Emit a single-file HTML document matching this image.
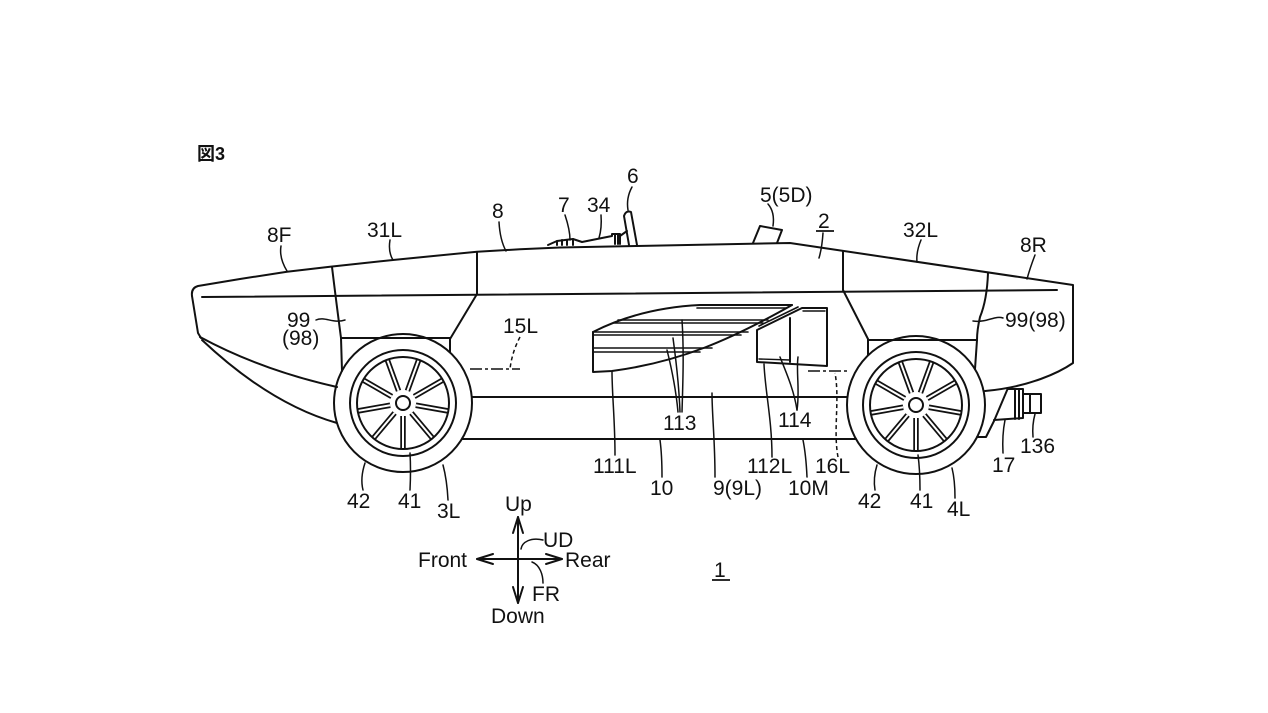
<!DOCTYPE html>
<html><head><meta charset="utf-8"><style>
html,body{margin:0;padding:0;background:#fff;}
svg{display:block;}
text{font-family:"Liberation Sans","Noto Sans CJK JP",sans-serif;font-size:21px;fill:#111;}
</style></head><body>
<svg width="1268" height="713" viewBox="0 0 1268 713" xmlns="http://www.w3.org/2000/svg">
<rect width="1268" height="713" fill="#fff"/>
<text x="197" y="160" style="font-size:18px;font-weight:bold">図3</text>

<g fill="none" stroke="#111" stroke-width="2" stroke-linejoin="round" stroke-linecap="round">
  <!-- body top outline -->
  <path d="M192,296 Q191,288 198,286 L240,279 L287,271.7 L330,266.7 L393,260 L477,251.7 L520,249.3 L560,247.5 L637,246 L790,243 L1073,285 L1073,363 C1060,372 1030,387 985,391"/>
  <!-- front edge and hull curves -->
  <path d="M192,296 L198,333 L201,338"/>
  <path d="M200,337 Q261,370 337,387"/>
  <path d="M202,340 Q270,404 337,423"/>
  <!-- inner horizontal line -->
  <path d="M202,297 L1057,290"/>
  <!-- front section lines -->
  <path d="M332,267 Q336,300 341,338 L342,371"/>
  <path d="M341,338 L450,338"/>
  <path d="M477,252 L477,294 L450,339 L450,352"/>
  <!-- rear section lines -->
  <path d="M843,251 L843,290 L868,339 L868,355"/>
  <path d="M868,340 L977,340"/>
  <path d="M988,273 Q987,300 980,317 Q977,330 977,340 L975,369"/>
  <!-- lower body lines -->
  <path d="M472,397 L847,397"/>
  <path d="M462,439 L856,439"/>
  <!-- rear piece 17 -->
  <path d="M1008,388 L994,421 L986,437 L977,437"/>
  <!-- connector 136 -->
  <path d="M1008,389 L1023,389 L1023,418 L994,420"/>
  <path d="M1015,389 L1015,419 M1019,389 L1019,419"/>
  <path d="M1023,394 L1041,394 L1041,413 L1023,413 M1030,394 L1030,413"/>

  <!-- battery 9 -->
  <path d="M593,332 L593,372 L612,371 C680,362 730,340 792,305"/>
  <path d="M593,332 Q640,308 700,305 L792,305"/>
  <path d="M697,308 L786,308" stroke-width="1.6"/>
  <path d="M618,320 L768,320 M614,323 L763,323" stroke-width="1.6"/>
  <path d="M593,332 L748,332 M593,335 L741,335" stroke-width="1.6"/>
  <path d="M593,348 L712,348 M593,352 L700,352" stroke-width="1.6"/>
  <!-- box 112L -->
  <path d="M757,330 L802,308 L827,308 L827,366 L757,362 Z"/>
  <path d="M759,326 L798,307" stroke-width="1.6"/>
  <path d="M803,311 L825,311" stroke-width="1.4"/>
  <path d="M759,359 L790,360" stroke-width="1.4"/>
  <path d="M790,318 L790,362"/>

  <!-- steering column -->
  <path d="M548,245 L557,241 L573,239 L582,242 L612,236 L612,234 L620,234 L620,244"/>
  <path d="M557,241 L557,245 M562,240 L562,245 M567,240 L567,245 M573,239 L573,245 M615,234 L615,244 M618,234 L618,244"/>
  <path d="M620,236 L627,231"/>
  <!-- rod 6 -->
  <path d="M629,245 L624,216 Q626,210 631,212 L637,245"/>
  <!-- camera 5 -->
  <path d="M753,243 L760,226 L782,230 L777,243"/>

  <!-- front wheel -->
  <circle cx="403" cy="403" r="69"/>
  <circle cx="403" cy="403" r="53"/>
  <circle cx="403" cy="403" r="46"/>
  <circle cx="403" cy="403" r="7"/>
  <!-- rear wheel -->
  <circle cx="916" cy="405" r="69"/>
  <circle cx="916" cy="405" r="53"/>
  <circle cx="916" cy="405" r="46"/>
  <circle cx="916" cy="405" r="7"/>
</g>

<!-- spokes front -->
<g transform="translate(403,403)" stroke-linecap="butt">
  <g stroke="#111" stroke-width="5.5">
    <line x1="13" y1="0" x2="46" y2="0" transform="rotate(10)"/>
    <line x1="13" y1="0" x2="46" y2="0" transform="rotate(50)"/>
    <line x1="13" y1="0" x2="46" y2="0" transform="rotate(90)"/>
    <line x1="13" y1="0" x2="46" y2="0" transform="rotate(130)"/>
    <line x1="13" y1="0" x2="46" y2="0" transform="rotate(170)"/>
    <line x1="13" y1="0" x2="46" y2="0" transform="rotate(210)"/>
    <line x1="13" y1="0" x2="46" y2="0" transform="rotate(250)"/>
    <line x1="13" y1="0" x2="46" y2="0" transform="rotate(290)"/>
    <line x1="13" y1="0" x2="46" y2="0" transform="rotate(330)"/>
  </g>
  <g stroke="#fff" stroke-width="2">
    <line x1="13" y1="0" x2="45" y2="0" transform="rotate(10)"/>
    <line x1="13" y1="0" x2="45" y2="0" transform="rotate(50)"/>
    <line x1="13" y1="0" x2="45" y2="0" transform="rotate(90)"/>
    <line x1="13" y1="0" x2="45" y2="0" transform="rotate(130)"/>
    <line x1="13" y1="0" x2="45" y2="0" transform="rotate(170)"/>
    <line x1="13" y1="0" x2="45" y2="0" transform="rotate(210)"/>
    <line x1="13" y1="0" x2="45" y2="0" transform="rotate(250)"/>
    <line x1="13" y1="0" x2="45" y2="0" transform="rotate(290)"/>
    <line x1="13" y1="0" x2="45" y2="0" transform="rotate(330)"/>
  </g>
</g>
<!-- spokes rear -->
<g transform="translate(916,405)" stroke-linecap="butt">
  <g stroke="#111" stroke-width="5.5">
    <line x1="13" y1="0" x2="46" y2="0" transform="rotate(10)"/>
    <line x1="13" y1="0" x2="46" y2="0" transform="rotate(50)"/>
    <line x1="13" y1="0" x2="46" y2="0" transform="rotate(90)"/>
    <line x1="13" y1="0" x2="46" y2="0" transform="rotate(130)"/>
    <line x1="13" y1="0" x2="46" y2="0" transform="rotate(170)"/>
    <line x1="13" y1="0" x2="46" y2="0" transform="rotate(210)"/>
    <line x1="13" y1="0" x2="46" y2="0" transform="rotate(250)"/>
    <line x1="13" y1="0" x2="46" y2="0" transform="rotate(290)"/>
    <line x1="13" y1="0" x2="46" y2="0" transform="rotate(330)"/>
  </g>
  <g stroke="#fff" stroke-width="2">
    <line x1="13" y1="0" x2="45" y2="0" transform="rotate(10)"/>
    <line x1="13" y1="0" x2="45" y2="0" transform="rotate(50)"/>
    <line x1="13" y1="0" x2="45" y2="0" transform="rotate(90)"/>
    <line x1="13" y1="0" x2="45" y2="0" transform="rotate(130)"/>
    <line x1="13" y1="0" x2="45" y2="0" transform="rotate(170)"/>
    <line x1="13" y1="0" x2="45" y2="0" transform="rotate(210)"/>
    <line x1="13" y1="0" x2="45" y2="0" transform="rotate(250)"/>
    <line x1="13" y1="0" x2="45" y2="0" transform="rotate(290)"/>
    <line x1="13" y1="0" x2="45" y2="0" transform="rotate(330)"/>
  </g>
</g>

<!-- dash-dot center lines -->
<g fill="none" stroke="#111" stroke-width="1.6" stroke-dasharray="12 3 3 3">
  <path d="M470,369 L520,369"/>
  <path d="M808,371 L848,371"/>
</g>

<!-- leaders -->
<g fill="none" stroke="#111" stroke-width="1.5" stroke-linecap="round">
  <path d="M281,246 Q279,258 287,271"/>
  <path d="M390,240 Q388,252 393,260"/>
  <path d="M499,222 Q500,240 506,251"/>
  <path d="M565,215 Q570,230 570,240"/>
  <path d="M601,215 Q602,228 599,238"/>
  <path d="M632,187 Q626,198 628,210"/>
  <path d="M768,204 Q775,212 773,226"/>
  <path d="M823,233 Q822,248 819,258"/>
  <path d="M921,240 Q916,252 917,262"/>
  <path d="M1035,255 Q1030,268 1027,279"/>
  <path d="M1003,318 C995,315 987,323 973,321"/>
  <path d="M316,320 C325,316 333,324 345,320"/>
  <path d="M678,412 C676,390 672,370 667,350"/>
  <path d="M680,412 C679,385 676,360 673,338"/>
  <path d="M682,412 C683,380 684,350 682,320"/>
  <path d="M797,410 C794,390 786,372 780,357"/>
  <path d="M797,410 C800,390 796,372 798,357"/>
  <path d="M615,455 C615,420 612,395 612,371"/>
  <path d="M662,477 Q662,455 660,440"/>
  <path d="M715,477 C715,440 712,415 712,393"/>
  <path d="M772,457 C772,420 765,390 764,364"/>
  <path d="M807,477 Q806,455 803,440"/>
  <path d="M363,490 Q360,478 365,463"/>
  <path d="M410,490 Q411,470 410,453"/>
  <path d="M448,500 Q447,480 443,465"/>
  <path d="M875,490 Q873,478 877,465"/>
  <path d="M920,490 Q920,470 918,455"/>
  <path d="M955,498 Q955,480 952,468"/>
  <path d="M1003,453 Q1002,435 1005,420"/>
  <path d="M1033,437 Q1032,425 1035,414"/>
  <path d="M543,540 C531,537 522,542 521,549"/>
  <path d="M532,562 C540,565 543,575 543,583"/>
</g>
<g fill="none" stroke="#111" stroke-width="1.5" stroke-dasharray="4 3">
  <path d="M520,337 Q512,352 510,369"/>
  <path d="M838,457 C833,430 840,400 835,373"/>
</g>

<!-- direction arrows -->
<g fill="none" stroke="#111" stroke-width="2" stroke-linecap="round" stroke-linejoin="round">
  <path d="M518,517 L518,603"/>
  <path d="M513,533 L518,517 L523,533"/>
  <path d="M513,587 L518,603 L523,587"/>
  <path d="M477,559 L562,559"/>
  <path d="M493,554 L477,559 L493,564"/>
  <path d="M546,554 L562,559 L546,564"/>
</g>

<!-- underlines -->
<g stroke="#111" stroke-width="1.8">
  <line x1="816" y1="231" x2="834" y2="231"/>
  <line x1="712" y1="580" x2="730" y2="580"/>
</g>

<!-- labels -->
<text x="267" y="242">8F</text>
<text x="367" y="237">31L</text>
<text x="492" y="218">8</text>
<text x="558" y="212">7</text>
<text x="587" y="212">34</text>
<text x="627" y="183">6</text>
<text x="760" y="202">5(5D)</text>
<text x="818" y="228">2</text>
<text x="903" y="237">32L</text>
<text x="1020" y="252">8R</text>
<text x="1005" y="327">99(98)</text>
<text x="287" y="327">99</text>
<text x="282" y="345">(98)</text>
<text x="503" y="333">15L</text>
<text x="663" y="430">113</text>
<text x="778" y="427">114</text>
<text x="593" y="473">111L</text>
<text x="650" y="495">10</text>
<text x="713" y="495">9(9L)</text>
<text x="747" y="473">112L</text>
<text x="788" y="495">10M</text>
<text x="815" y="473">16L</text>
<text x="347" y="508">42</text>
<text x="398" y="508">41</text>
<text x="437" y="518">3L</text>
<text x="858" y="508">42</text>
<text x="910" y="508">41</text>
<text x="947" y="516">4L</text>
<text x="992" y="472">17</text>
<text x="1020" y="453">136</text>
<text x="505" y="511">Up</text>
<text x="543" y="547">UD</text>
<text x="418" y="567">Front</text>
<text x="565" y="567">Rear</text>
<text x="532" y="601">FR</text>
<text x="491" y="623">Down</text>
<text x="714" y="577">1</text>
</svg>
</body></html>
